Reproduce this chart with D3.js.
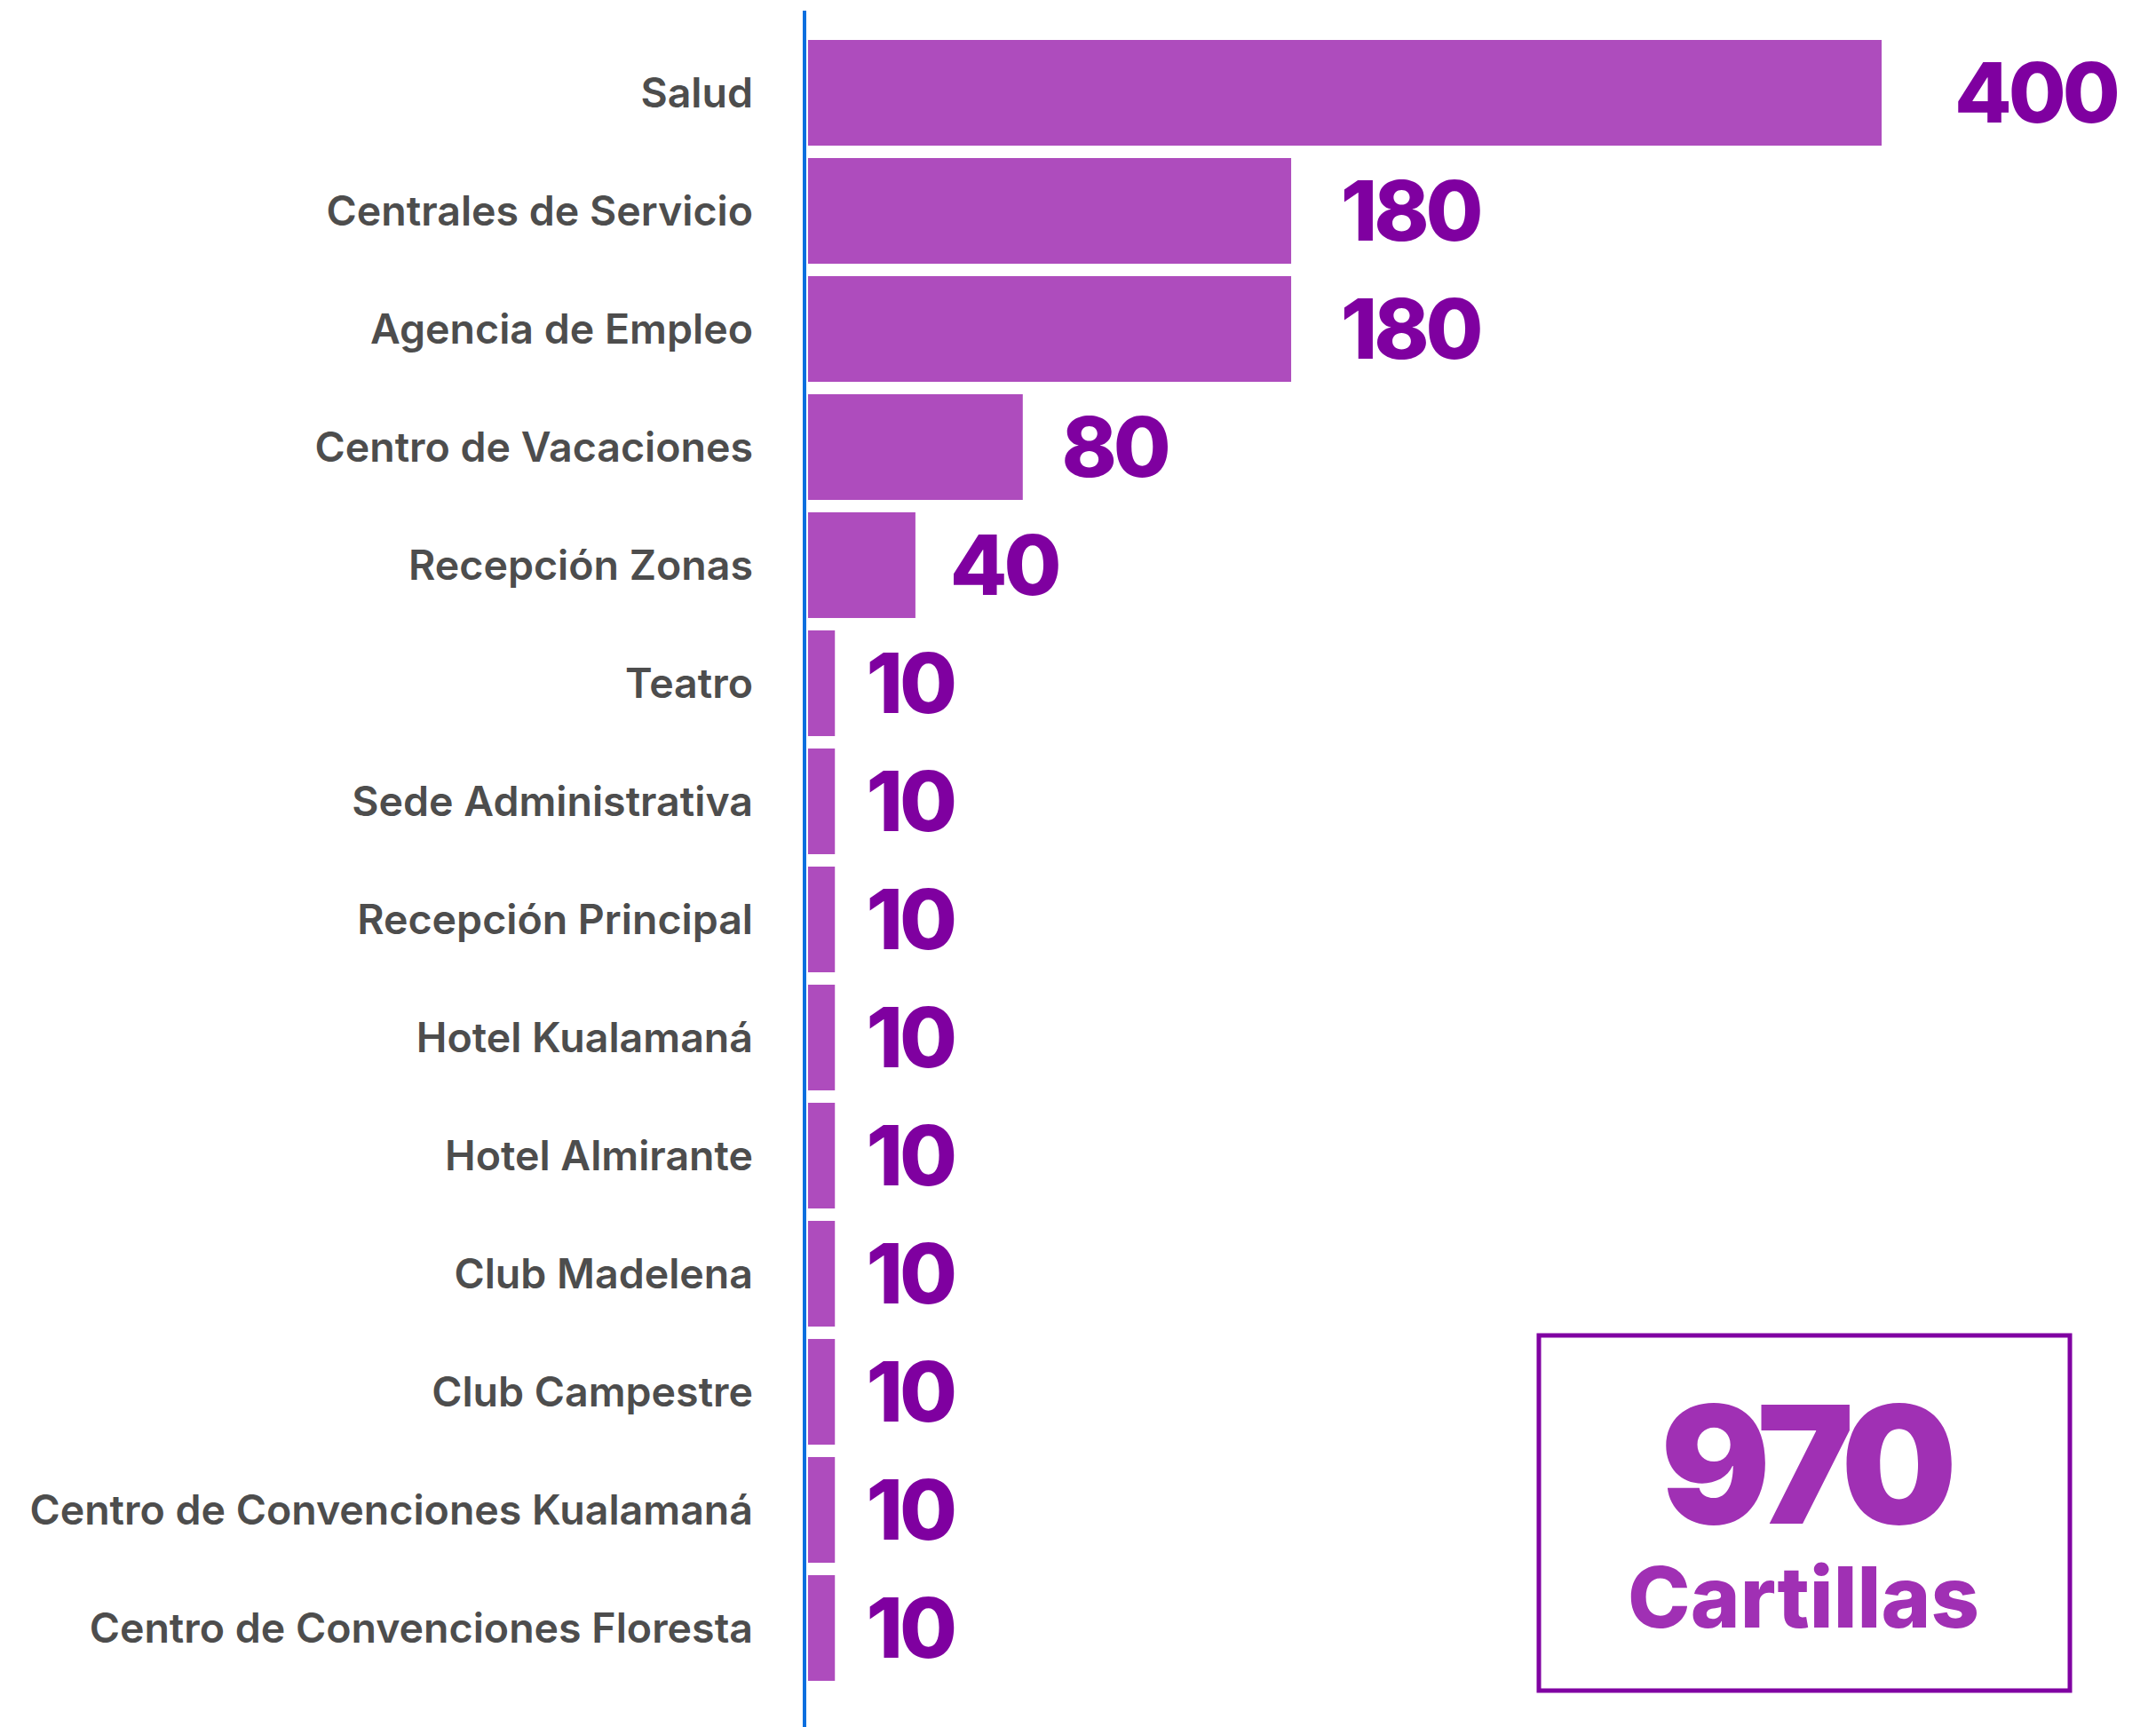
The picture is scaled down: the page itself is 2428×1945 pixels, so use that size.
<!DOCTYPE html>
<html>
<head>
<meta charset="utf-8">
<script src="https://cdn.jsdelivr.net/npm/d3@7"></script>
<style>
  body { margin: 0; background: #ffffff; }
</style>
</head>
<body>
<div id="chart"></div>
<script>
// data
var categories = ["Salud", "Centrales de Servicio", "Agencia de Empleo", "Centro de Vacaciones",
  "Recepción Zonas", "Teatro", "Sede Administrativa", "Recepción Principal", "Hotel Kualamaná",
  "Hotel Almirante", "Club Madelena", "Club Campestre", "Centro de Convenciones Kualamaná",
  "Centro de Convenciones Floresta"];
var values = [400, 180, 180, 80, 40, 10, 10, 10, 10, 10, 10, 10, 10, 10];
var totalLabel = "Cartillas";

var width = 2428, height = 1945;
var axisX = 906;

var svg = d3.select("#chart").append("svg")
  .attr("width", width)
  .attr("height", height);

var x = d3.scaleLinear()
  .domain([0, 400])
  .range([910, 2119]);

var y = d3.scaleBand()
  .domain(categories)
  .range([38, 38 + 14 * 133])
  .paddingInner(0.105)
  .paddingOuter(0.0526);

// bars
svg.append("g")
  .selectAll("rect")
  .data(values)
  .enter()
  .append("rect")
  .attr("x", x(0))
  .attr("y", function(d, i) { return y(categories[i]); })
  .attr("width", function(d) { return x(d) - x(0); })
  .attr("height", y.bandwidth())
  .attr("fill", "#ae4cbd");

// category labels
svg.append("g")
  .selectAll("text")
  .data(categories)
  .enter()
  .append("text")
  .attr("x", 848)
  .attr("y", function(d) { return y(d) + y.bandwidth() / 2; })
  .attr("dy", "0.36em")
  .attr("text-anchor", "end")
  .attr("font-family", "Inter, sans-serif")
  .attr("font-weight", 600)
  .attr("font-size", "46.5px")
  .attr("fill", "#4d4d4d")
  .text(function(d) { return d; });

// value labels
svg.append("g")
  .selectAll("text")
  .data(values)
  .enter()
  .append("text")
  .attr("x", function(d) { return x(d) + 34 + d * 0.12; })
  .attr("y", function(d, i) { return y(categories[i]) + y.bandwidth() / 2; })
  .attr("dy", "0.36em")
  .attr("font-family", "Inter, sans-serif")
  .attr("font-weight", 800)
  .attr("font-size", "94px")
  .attr("letter-spacing", "-4px")
  .attr("fill", "#7f00a0")
  .text(function(d) { return d; });

// vertical axis line
svg.append("line")
  .attr("x1", axisX).attr("x2", axisX)
  .attr("y1", 12).attr("y2", height)
  .attr("stroke", "#0a6fdf")
  .attr("stroke-width", 4);

// total box
var total = d3.sum(values);
var box = svg.append("g");
box.append("rect")
  .attr("x", 1733).attr("y", 1504)
  .attr("width", 598).attr("height", 400)
  .attr("fill", "none")
  .attr("stroke", "#8000a2")
  .attr("stroke-width", 5);

box.append("text")
  .attr("x", 2031).attr("y", 1716)
  .attr("text-anchor", "middle")
  .attr("font-family", "Inter, sans-serif")
  .attr("font-weight", 900)
  .attr("font-size", "184px")
  .attr("letter-spacing", "-12px")
  .attr("fill", "#a030b4")
  .text(total);

box.append("text")
  .attr("x", 2031).attr("y", 1833)
  .attr("text-anchor", "middle")
  .attr("font-family", "Inter, sans-serif")
  .attr("font-weight", 800)
  .attr("font-size", "95px")
  .attr("fill", "#a030b4")
  .text(totalLabel);
</script>
</body>
</html>
